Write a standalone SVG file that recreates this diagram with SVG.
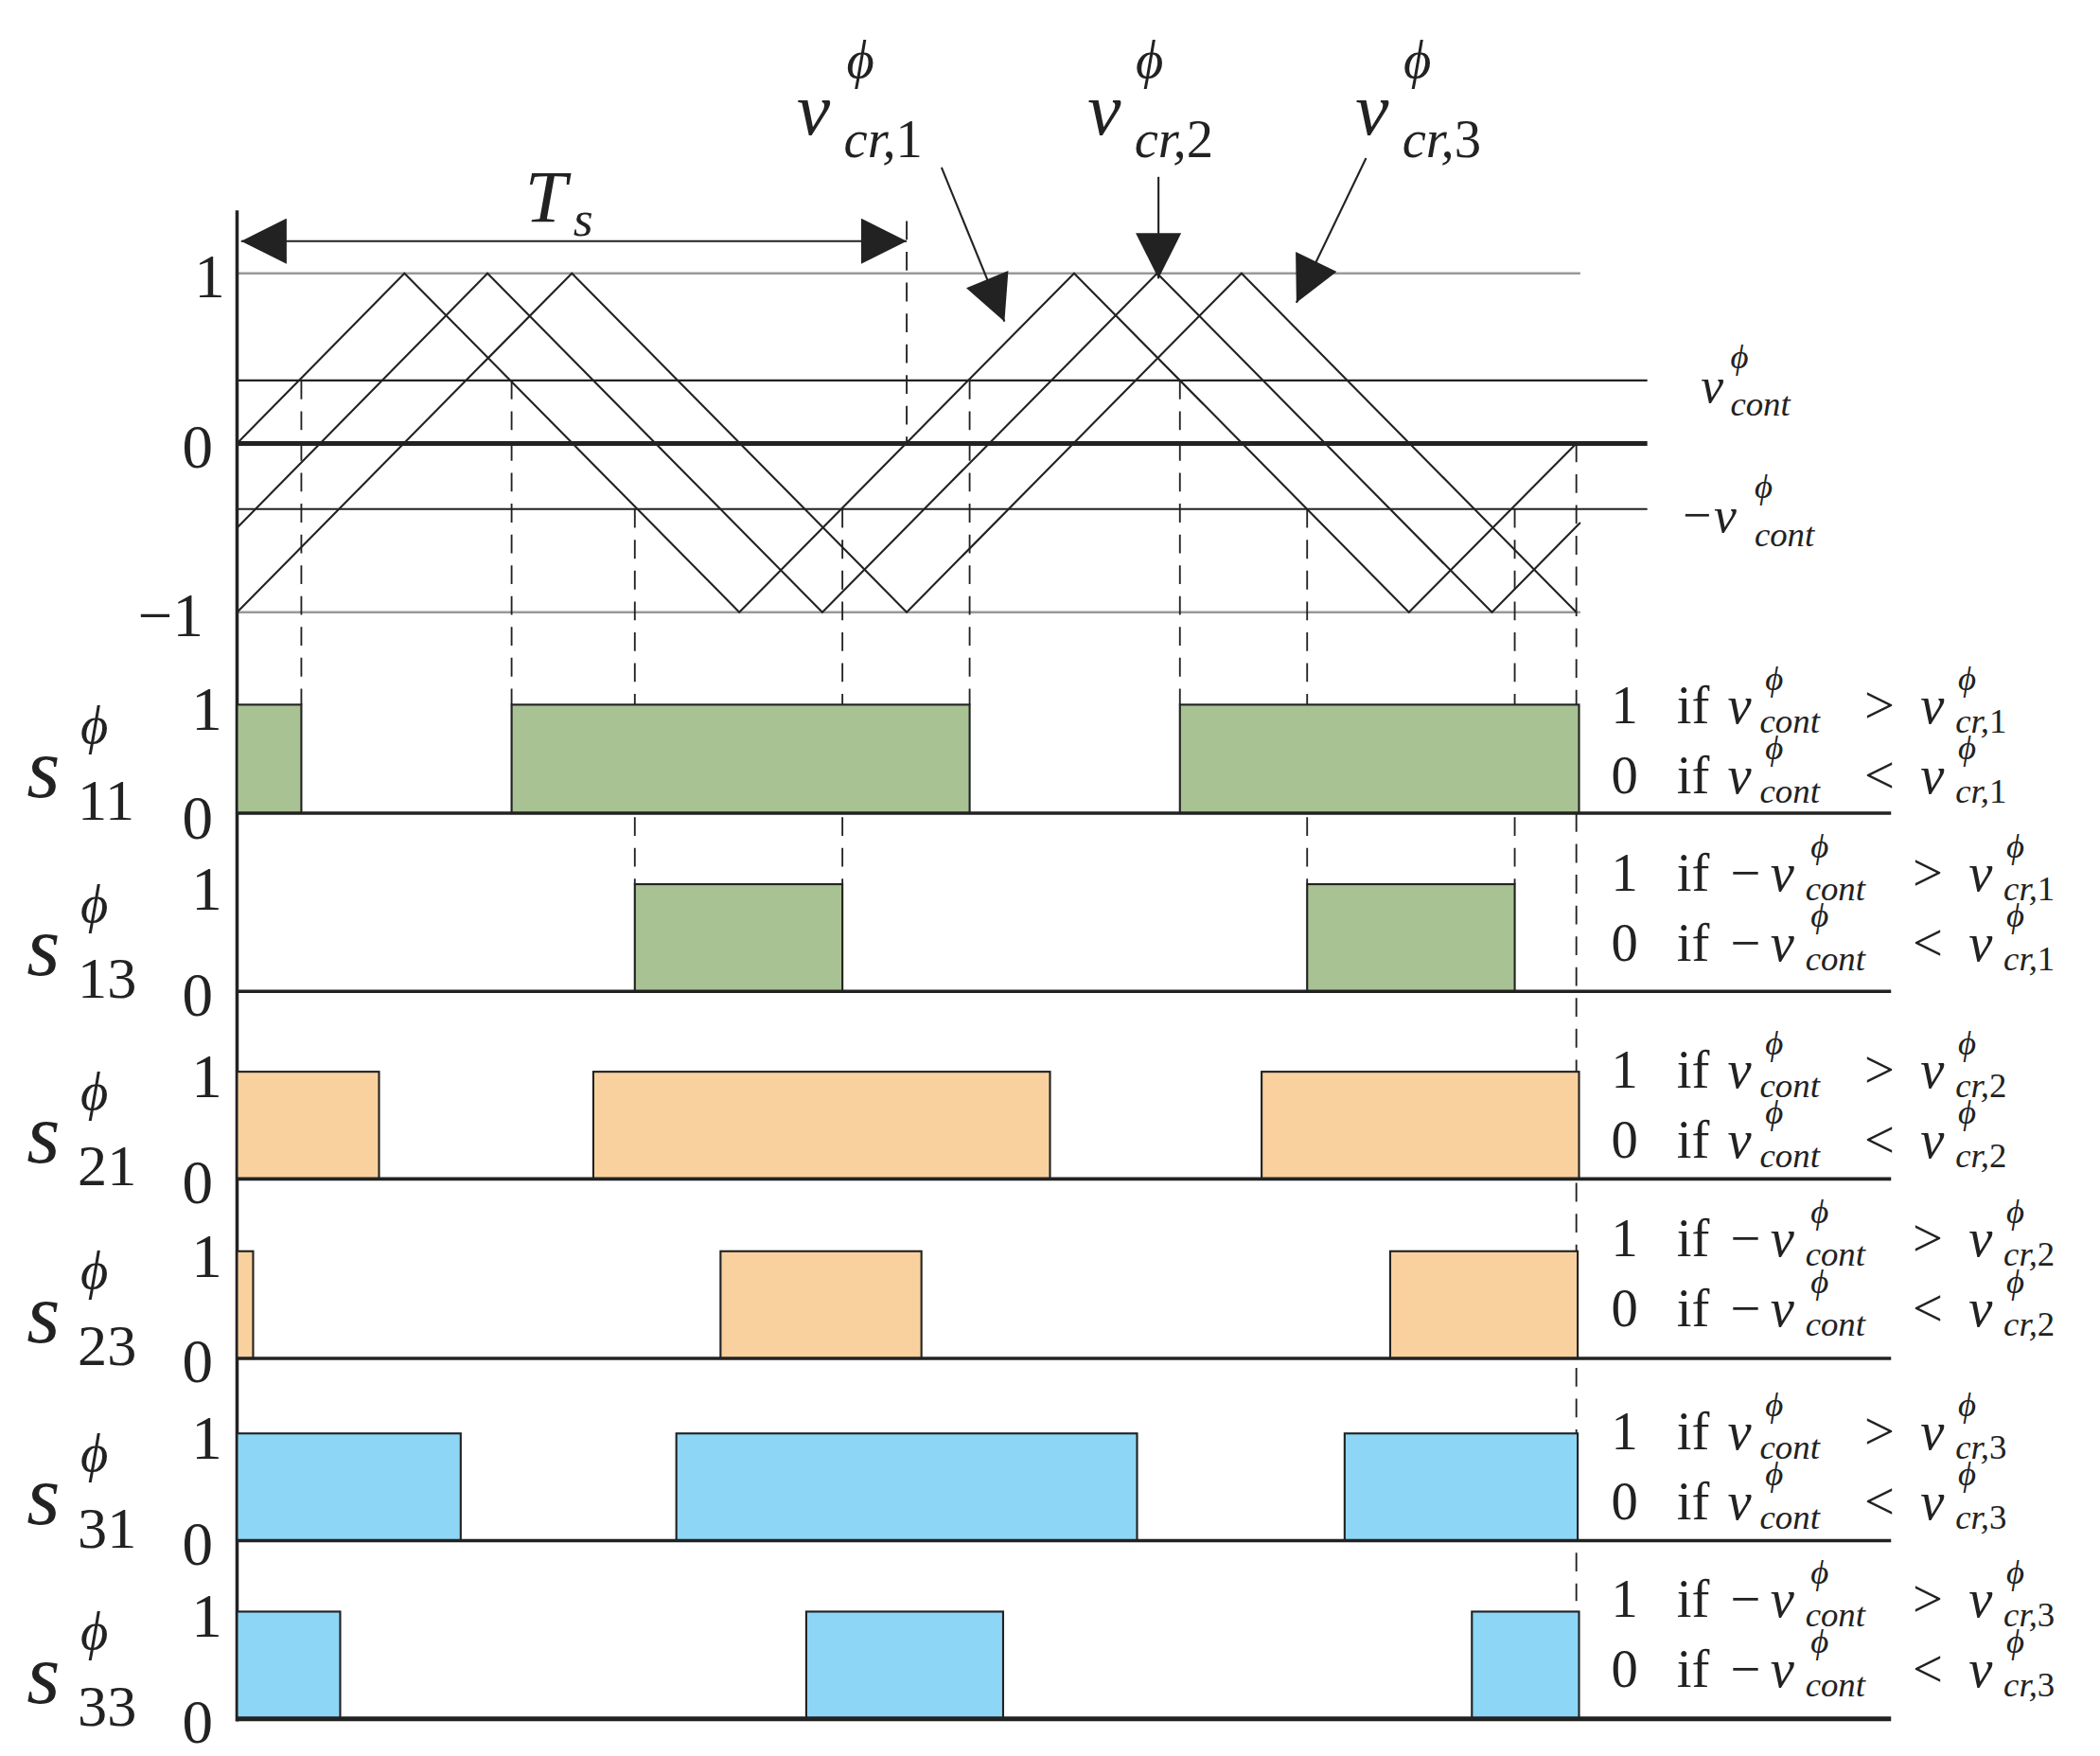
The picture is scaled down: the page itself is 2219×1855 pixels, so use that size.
<svg xmlns="http://www.w3.org/2000/svg" width="2219" height="1855" viewBox="0 0 2219 1855">
<style>
text{font-family:"Liberation Serif","DejaVu Serif","Times New Roman",serif;fill:#222}
.it{font-style:italic}
.n{font-size:46px}
.ax{stroke:#222;stroke-width:2.5;fill:none}
.thin{stroke:#222;stroke-width:1.5;fill:none}
.gr{stroke:#999;stroke-width:1.8}
.ds{stroke:#222;stroke-width:1.3;stroke-dasharray:14,9}
.g{fill:#a9c294;stroke:#222;stroke-width:1.5}
.o{fill:#f9d19e;stroke:#222;stroke-width:1.5}
.b{fill:#8dd6f6;stroke:#222;stroke-width:1.5}
.sup{font-size:26px}
.big{font-size:56px}
.r{font-size:40px}
</style>
<defs>
<marker id="big" viewBox="0 0 10 10" refX="10" refY="5" markerWidth="36" markerHeight="34" orient="auto-start-reverse" markerUnits="userSpaceOnUse"><path d="M0,0 L10,5 L0,10 z" fill="#222"/></marker>
</defs>
<rect width="2219" height="1855" fill="#fff"/>
<g transform="scale(1.41518)" font-family="Liberation Serif, DejaVu Serif, serif">
<g id="carrier-plot">
<line class="gr" x1="177" y1="204" x2="1180" y2="204"/>
<line class="gr" x1="177" y1="457" x2="1180" y2="457"/>
<line class="thin" x1="177" y1="284" x2="1230" y2="284"/>
<line class="thin" x1="177" y1="380" x2="1230" y2="380"/>
<line x1="177" y1="331" x2="1230" y2="331" stroke="#222" stroke-width="3.5"/>
<polyline class="thin" points="177,331 302,204 552,457 802,204 1052,457 1177,331"/>
<polyline class="thin" points="177,394 364,204 614,457 864,204 1114,457 1180,390"/>
<polyline class="thin" points="177,457 427,204 677,457 927,204 1177,457"/>
<text class="n" x="145" y="222">1</text>
<text class="n" x="136" y="349">0</text>
<text class="n" x="103" y="475">−1</text>
<text class="it big" x="392" y="165">T</text><text class="it" x="428" y="176" font-size="38">s</text>
<text class="it big" x="595" y="100">v</text><text class="it r" x="632" y="58">ϕ</text><text class="it r" x="630" y="117">cr,<tspan font-style="normal">1</tspan></text>
<text class="it big" x="812" y="100">v</text><text class="it r" x="848" y="58">ϕ</text><text class="it r" x="847" y="117">cr,<tspan font-style="normal">2</tspan></text>
<text class="it big" x="1012" y="100">v</text><text class="it r" x="1048" y="58">ϕ</text><text class="it r" x="1047" y="117">cr,<tspan font-style="normal">3</tspan></text>
<text class="it" x="1270" y="300" font-size="38">v</text><text class="it sup" x="1292" y="275">ϕ</text><text class="it sup" x="1292" y="310">cont</text>
<text class="it" x="1254" y="397" font-size="38">−v</text><text class="it sup" x="1310" y="372">ϕ</text><text class="it sup" x="1310" y="408">cont</text>
</g>
<g id="connectors">
<line class="ax" x1="177" y1="157" x2="177" y2="1285"/>
<line class="thin" x1="180" y1="180" x2="677" y2="180" stroke-width="2" marker-start="url(#big)" marker-end="url(#big)"/>
<line class="thin" x1="703" y1="125" x2="750" y2="240" marker-end="url(#big)"/>
<line class="thin" x1="865" y1="132" x2="865" y2="208" marker-end="url(#big)"/>
<line class="thin" x1="1020" y1="118" x2="968" y2="226" marker-end="url(#big)"/>
<line class="ds" x1="677" y1="165" x2="677" y2="331"/>
<line class="ds" x1="225" y1="284" x2="225" y2="526"/>
<line class="ds" x1="382" y1="284" x2="382" y2="526"/>
<line class="ds" x1="724" y1="284" x2="724" y2="526"/>
<line class="ds" x1="881" y1="284" x2="881" y2="526"/>
<line class="ds" x1="474" y1="380" x2="474" y2="660"/>
<line class="ds" x1="629" y1="380" x2="629" y2="660"/>
<line class="ds" x1="976" y1="380" x2="976" y2="660"/>
<line class="ds" x1="1131" y1="380" x2="1131" y2="660"/>
<line class="ds" x1="1177" y1="331" x2="1177" y2="1195"/>
</g>
<g id="s11">
<rect class="g" x="177" y="526" width="48" height="81"/><rect class="g" x="382" y="526" width="342" height="81"/><rect class="g" x="881" y="526" width="298" height="81"/>
<line class="ax" x1="177" y1="607" x2="1412" y2="607"/>
<text class="n" x="143" y="545">1</text><text class="n" x="136" y="626">0</text>
<text class="it" x="20" y="595" font-size="64">s</text><text class="it r" x="60" y="555">ϕ</text><text x="58" y="612" font-size="44">11</text>
<text class="r" x="1203" y="540">1</text><text class="r" x="1252" y="540">if</text><text class="it r" x="1290" y="540">v</text><text class="it sup" x="1318" y="515">ϕ</text><text class="it sup" x="1314" y="547">cont</text><text class="r" x="1392" y="540">&gt;</text><text class="it r" x="1434" y="540">v</text><text class="it sup" x="1462" y="515">ϕ</text><text class="it sup" x="1460" y="547">cr,<tspan font-style="normal">1</tspan></text>
<text class="r" x="1203" y="592">0</text><text class="r" x="1252" y="592">if</text><text class="it r" x="1290" y="592">v</text><text class="it sup" x="1318" y="567">ϕ</text><text class="it sup" x="1314" y="599">cont</text><text class="r" x="1392" y="592">&lt;</text><text class="it r" x="1434" y="592">v</text><text class="it sup" x="1462" y="567">ϕ</text><text class="it sup" x="1460" y="599">cr,<tspan font-style="normal">1</tspan></text>
</g>
<g id="s13">
<rect class="g" x="474" y="660" width="155" height="80"/><rect class="g" x="976" y="660" width="155" height="80"/>
<line class="ax" x1="177" y1="740" x2="1412" y2="740"/>
<text class="n" x="143" y="679">1</text><text class="n" x="136" y="758">0</text>
<text class="it" x="20" y="728" font-size="64">s</text><text class="it r" x="60" y="688">ϕ</text><text x="58" y="745" font-size="44">13</text>
<text class="r" x="1203" y="665">1</text><text class="r" x="1252" y="665">if</text><text class="r" x="1292" y="665">−</text><text class="it r" x="1322" y="665">v</text><text class="it sup" x="1352" y="640">ϕ</text><text class="it sup" x="1348" y="672">cont</text><text class="r" x="1428" y="665">&gt;</text><text class="it r" x="1470" y="665">v</text><text class="it sup" x="1498" y="640">ϕ</text><text class="it sup" x="1496" y="672">cr,<tspan font-style="normal">1</tspan></text>
<text class="r" x="1203" y="717">0</text><text class="r" x="1252" y="717">if</text><text class="r" x="1292" y="717">−</text><text class="it r" x="1322" y="717">v</text><text class="it sup" x="1352" y="692">ϕ</text><text class="it sup" x="1348" y="724">cont</text><text class="r" x="1428" y="717">&lt;</text><text class="it r" x="1470" y="717">v</text><text class="it sup" x="1498" y="692">ϕ</text><text class="it sup" x="1496" y="724">cr,<tspan font-style="normal">1</tspan></text>
</g>
<g id="s21">
<rect class="o" x="177" y="800" width="106" height="80"/><rect class="o" x="443" y="800" width="341" height="80"/><rect class="o" x="942" y="800" width="237" height="80"/>
<line class="ax" x1="177" y1="880" x2="1412" y2="880"/>
<text class="n" x="143" y="819">1</text><text class="n" x="136" y="898">0</text>
<text class="it" x="20" y="868" font-size="64">s</text><text class="it r" x="60" y="828">ϕ</text><text x="58" y="885" font-size="44">21</text>
<text class="r" x="1203" y="812">1</text><text class="r" x="1252" y="812">if</text><text class="it r" x="1290" y="812">v</text><text class="it sup" x="1318" y="787">ϕ</text><text class="it sup" x="1314" y="819">cont</text><text class="r" x="1392" y="812">&gt;</text><text class="it r" x="1434" y="812">v</text><text class="it sup" x="1462" y="787">ϕ</text><text class="it sup" x="1460" y="819">cr,<tspan font-style="normal">2</tspan></text>
<text class="r" x="1203" y="864">0</text><text class="r" x="1252" y="864">if</text><text class="it r" x="1290" y="864">v</text><text class="it sup" x="1318" y="839">ϕ</text><text class="it sup" x="1314" y="871">cont</text><text class="r" x="1392" y="864">&lt;</text><text class="it r" x="1434" y="864">v</text><text class="it sup" x="1462" y="839">ϕ</text><text class="it sup" x="1460" y="871">cr,<tspan font-style="normal">2</tspan></text>
</g>
<g id="s23">
<rect class="o" x="177" y="934" width="12" height="80"/><rect class="o" x="538" y="934" width="150" height="80"/><rect class="o" x="1038" y="934" width="140" height="80"/>
<line class="ax" x1="177" y1="1014" x2="1412" y2="1014"/>
<text class="n" x="143" y="953">1</text><text class="n" x="136" y="1032">0</text>
<text class="it" x="20" y="1002" font-size="64">s</text><text class="it r" x="60" y="962">ϕ</text><text x="58" y="1019" font-size="44">23</text>
<text class="r" x="1203" y="938">1</text><text class="r" x="1252" y="938">if</text><text class="r" x="1292" y="938">−</text><text class="it r" x="1322" y="938">v</text><text class="it sup" x="1352" y="913">ϕ</text><text class="it sup" x="1348" y="945">cont</text><text class="r" x="1428" y="938">&gt;</text><text class="it r" x="1470" y="938">v</text><text class="it sup" x="1498" y="913">ϕ</text><text class="it sup" x="1496" y="945">cr,<tspan font-style="normal">2</tspan></text>
<text class="r" x="1203" y="990">0</text><text class="r" x="1252" y="990">if</text><text class="r" x="1292" y="990">−</text><text class="it r" x="1322" y="990">v</text><text class="it sup" x="1352" y="965">ϕ</text><text class="it sup" x="1348" y="997">cont</text><text class="r" x="1428" y="990">&lt;</text><text class="it r" x="1470" y="990">v</text><text class="it sup" x="1498" y="965">ϕ</text><text class="it sup" x="1496" y="997">cr,<tspan font-style="normal">2</tspan></text>
</g>
<g id="s31">
<rect class="b" x="177" y="1070" width="167" height="80"/><rect class="b" x="505" y="1070" width="344" height="80"/><rect class="b" x="1004" y="1070" width="174" height="80"/>
<line class="ax" x1="177" y1="1150" x2="1412" y2="1150"/>
<text class="n" x="143" y="1089">1</text><text class="n" x="136" y="1168">0</text>
<text class="it" x="20" y="1138" font-size="64">s</text><text class="it r" x="60" y="1098">ϕ</text><text x="58" y="1155" font-size="44">31</text>
<text class="r" x="1203" y="1082">1</text><text class="r" x="1252" y="1082">if</text><text class="it r" x="1290" y="1082">v</text><text class="it sup" x="1318" y="1057">ϕ</text><text class="it sup" x="1314" y="1089">cont</text><text class="r" x="1392" y="1082">&gt;</text><text class="it r" x="1434" y="1082">v</text><text class="it sup" x="1462" y="1057">ϕ</text><text class="it sup" x="1460" y="1089">cr,<tspan font-style="normal">3</tspan></text>
<text class="r" x="1203" y="1134">0</text><text class="r" x="1252" y="1134">if</text><text class="it r" x="1290" y="1134">v</text><text class="it sup" x="1318" y="1109">ϕ</text><text class="it sup" x="1314" y="1141">cont</text><text class="r" x="1392" y="1134">&lt;</text><text class="it r" x="1434" y="1134">v</text><text class="it sup" x="1462" y="1109">ϕ</text><text class="it sup" x="1460" y="1141">cr,<tspan font-style="normal">3</tspan></text>
</g>
<g id="s33">
<rect class="b" x="177" y="1203" width="77" height="80"/><rect class="b" x="602" y="1203" width="147" height="80"/><rect class="b" x="1099" y="1203" width="80" height="80"/>
<line x1="177" y1="1283" x2="1412" y2="1283" stroke="#222" stroke-width="3.5"/>
<text class="n" x="143" y="1222">1</text><text class="n" x="136" y="1301">0</text>
<text class="it" x="20" y="1271" font-size="64">s</text><text class="it r" x="60" y="1231">ϕ</text><text x="58" y="1288" font-size="44">33</text>
<text class="r" x="1203" y="1207">1</text><text class="r" x="1252" y="1207">if</text><text class="r" x="1292" y="1207">−</text><text class="it r" x="1322" y="1207">v</text><text class="it sup" x="1352" y="1182">ϕ</text><text class="it sup" x="1348" y="1214">cont</text><text class="r" x="1428" y="1207">&gt;</text><text class="it r" x="1470" y="1207">v</text><text class="it sup" x="1498" y="1182">ϕ</text><text class="it sup" x="1496" y="1214">cr,<tspan font-style="normal">3</tspan></text>
<text class="r" x="1203" y="1259">0</text><text class="r" x="1252" y="1259">if</text><text class="r" x="1292" y="1259">−</text><text class="it r" x="1322" y="1259">v</text><text class="it sup" x="1352" y="1234">ϕ</text><text class="it sup" x="1348" y="1266">cont</text><text class="r" x="1428" y="1259">&lt;</text><text class="it r" x="1470" y="1259">v</text><text class="it sup" x="1498" y="1234">ϕ</text><text class="it sup" x="1496" y="1266">cr,<tspan font-style="normal">3</tspan></text>
</g>
</g>
</svg>
